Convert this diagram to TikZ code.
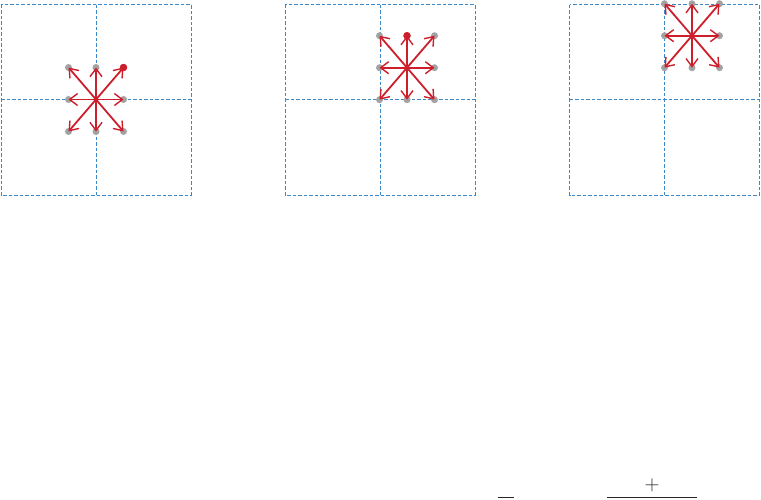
\documentclass[tikz,border=0pt]{standalone}
\usetikzlibrary{arrows.meta}
\definecolor{gridblue}{HTML}{3A87C9}
\definecolor{arrowred}{HTML}{CC1F2B}
\definecolor{dotgray}{HTML}{A3A3A3}
\tikzset{
  panelgrid/.style={draw=gridblue, line width=0.9pt, dash pattern=on 3.5pt off 2pt},
  graydot/.style={circle, fill=dotgray, inner sep=0pt, minimum size=7pt},
  reddot/.style={circle, fill=arrowred, inner sep=0pt, minimum size=7.5pt},
  centerdot/.style={circle, fill=arrowred, inner sep=0pt, minimum size=5pt},
  movearrow/.style={draw=arrowred, line width=1.8pt, -{Straight Barb[length=8pt,width=12pt,line width=1.4pt]}},
  barline/.style={draw=black!85, line width=1.1pt},
}
\begin{document}
\begin{tikzpicture}[x=1pt,y=-1pt]
\useasboundingbox (0,0) rectangle (761,499);
% panels
\foreach \L in {1,285,569.5}{
  \draw[panelgrid] (\L,4.7) rectangle ({\L+190},195);
  \draw[panelgrid] ({\L+95},4.7) -- ({\L+95},195);
  \draw[panelgrid] (\L,99.5) -- ({\L+190},99.5);
}
% stars
\foreach \p/\cx/\cy in {a/96/99.5, b/407/67.7, c/692/35.7}{
  \node[centerdot] (\p-c) at (\cx,\cy) {};
  \foreach \d/\ix/\iy in {nw/-1/-1, n/0/-1, ne/1/-1, w/-1/0, e/1/0, sw/-1/1, s/0/1, se/1/1}{
    \node[graydot] (\p-\d) at ({\cx+(\ix)*27.5},{\cy+(\iy)*32}) {};
  }
}
\node[reddot] (a-hit) at (a-ne) {};
\node[reddot] (b-hit) at (b-n) {};
\foreach \p in {a,b,c}{
  \foreach \d in {nw,n,ne,w,e,sw,s,se}{
    \draw[movearrow] (\p-c.center) -- (\p-\d.center);
  }
}
% bottom fragments
\node[text=black!85, inner sep=0pt, font=\fontsize{21}{21}\selectfont] (plus) at (652,485) {$+$};
\coordinate (m1) at (498,497.8);
\coordinate (m2) at (514,497.8);
\coordinate (f1) at (607,497.8);
\coordinate (f2) at (697,497.8);
\draw[barline] (m1) -- (m2);
\draw[barline] (f1) -- (f2);
\end{tikzpicture}
\end{document}
